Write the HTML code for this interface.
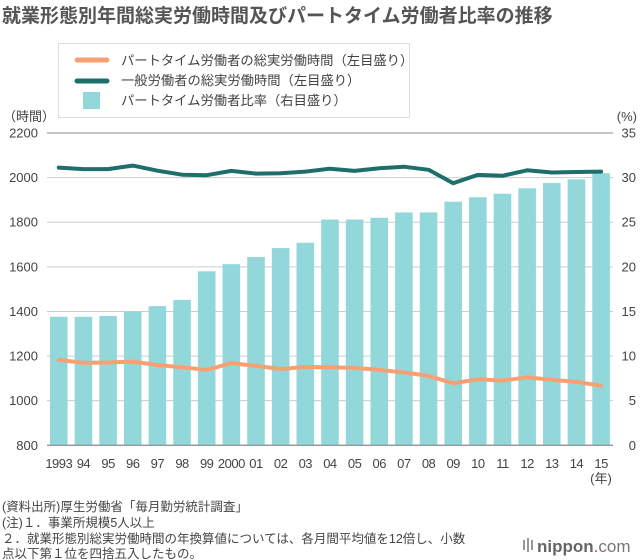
<!DOCTYPE html>
<html><head><meta charset="utf-8">
<style>
body{margin:0;background:#fff;}
svg{display:block;font-family:"Liberation Sans","Noto Sans CJK JP",sans-serif;}
</style></head>
<body>
<svg id="chart" width="640" height="560" viewBox="0 0 640 560">
<text x="2" y="22" font-size="19" font-weight="bold" fill="#555">就業形態別年間総実労働時間及びパートタイム労働者比率の推移</text>
<g>
<rect x="58.5" y="43.5" width="351" height="74" fill="#fff" stroke="#ddd"/>
<line x1="77" y1="60" x2="107" y2="60" stroke="#f9a072" stroke-width="5" stroke-linecap="round"/>
<text x="121" y="65" font-size="13.3" fill="#444">パートタイム労働者の総実労働時間（左目盛り）</text>
<line x1="77" y1="81" x2="107" y2="81" stroke="#1e6e6c" stroke-width="5" stroke-linecap="round"/>
<text x="121" y="85" font-size="13.3" fill="#444">一般労働者の総実労働時間（左目盛り）</text>
<rect x="83" y="92" width="17" height="17" fill="#92d8db"/>
<text x="121" y="105" font-size="13.3" fill="#444">パートタイム労働者比率（右目盛り）</text>
</g>
<text x="3" y="121" font-size="13" fill="#444">（時間）</text>
<text x="637" y="121" font-size="13" fill="#444" text-anchor="end">(%)</text>
<g id="grid"></g><g id="bars"></g><g id="lines"></g><g id="axes"></g>
<text x="601" y="483" font-size="13" fill="#444" text-anchor="middle">(年)</text>
<g font-size="12.5" fill="#444">
<text x="2" y="511">(資料出所)厚生労働省「毎月勤労統計調査」</text>
<text x="2" y="527">(注)１．事業所規模5人以上</text>
<text x="2" y="543">２．就業形態別総実労働時間の年換算値については、各月間平均値を12倍し、小数</text>
<text x="2" y="558">点以下第１位を四捨五入したもの。</text>
</g>
<g>
<rect x="523" y="540" width="2" height="10" fill="#999"/><rect x="527" y="538" width="2" height="14" fill="#999"/><rect x="531" y="540" width="2" height="10" fill="#999"/>
<text x="537" y="552" font-size="17" fill="#777"><tspan font-weight="bold" fill="#666">nippon</tspan><tspan fill="#e33">.</tspan>com</text>
</g>
</svg>
<script>
const years=['1993','94','95','96','97','98','99','2000','01','02','03','04','05','06','07','08','09','10','11','12','13','14','15'];
const ratio=[14.4,14.4,14.5,15.0,15.6,16.3,19.5,20.3,21.1,22.1,22.7,25.3,25.3,25.5,26.1,26.1,27.3,27.8,28.2,28.8,29.4,29.8,30.5];
const generalHours=[2045,2038,2038,2054,2031,2013,2011,2030,2018,2020,2027,2040,2030,2042,2049,2035,1975,2012,2008,2033,2023,2025,2027];
const partHours=[1183,1170,1171,1175,1160,1150,1138,1168,1156,1142,1151,1150,1147,1138,1127,1111,1078,1096,1090,1105,1093,1084,1067];
const leftTicks=[800,1000,1200,1400,1600,1800,2000,2200];
const rightTicks=[0,5,10,15,20,25,30,35];
const NS='http://www.w3.org/2000/svg';
const yTop=133,yBot=445.3,xL=47,xR=613;
const yL=v=>yBot-(v-800)/1400*(yBot-yTop);
const yR=v=>yBot-v/35*(yBot-yTop);
const xC=i=>58.8+i*24.65;
function mk(t,a,p){const e=document.createElementNS(NS,t);for(const k in a)e.setAttribute(k,a[k]);p.appendChild(e);return e;}
const grid=document.getElementById('grid'),bars=document.getElementById('bars'),lines=document.getElementById('lines'),axes=document.getElementById('axes');
leftTicks.forEach((v,i)=>{
 const g=mk('line',{x1:xL,x2:xR,y1:yL(v),y2:yL(v),stroke:(i==0||i==leftTicks.length-1)?'#888':'#ccc','stroke-width':1},grid);
 
 
 const t=mk('text',{x:38,y:yL(v)+4.5,'font-size':13,fill:'#444','text-anchor':'end'},axes);t.textContent=v;
 
 
});
rightTicks.forEach(v=>{
 const t=mk('text',{x:636,y:yR(v)+4.5,'font-size':13,fill:'#444','text-anchor':'end'},axes);t.textContent=v;
 
 
});
years.forEach((y,i)=>{
 const b=mk('rect',{x:xC(i)-8.8,y:yR(ratio[i]),width:17.6,height:yBot-yR(ratio[i]),fill:'#92d8db'},bars);
 
 
 const t=mk('text',{x:xC(i),y:468,'font-size':13,fill:'#444','text-anchor':'middle','letter-spacing':'-0.5'},axes);t.textContent=y;
 
 
});
const base=mk('line',{x1:xL,x2:xR,y1:yBot,y2:yBot,stroke:'#888'},axes);


function path(arr,col,name){
 const d=arr.map((v,i)=>(i?'L':'M')+xC(i).toFixed(1)+','+yL(v).toFixed(1)).join(' ');
 const p=mk('path',{d:d,fill:'none',stroke:col,'stroke-width':4,'stroke-linecap':'round','stroke-linejoin':'round'},lines);
 
 
}
path(generalHours,'#1e6e6c','general-hours-line');
path(partHours,'#f9a072','parttime-hours-line');
</script>
</body></html>
